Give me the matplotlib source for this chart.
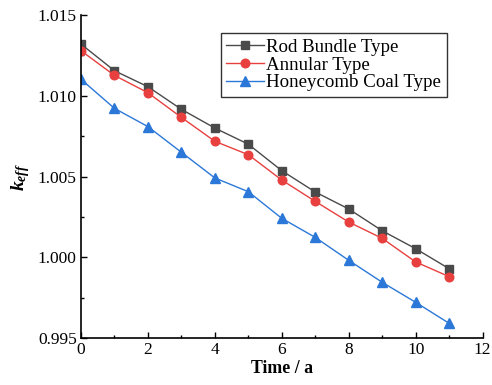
import matplotlib
matplotlib.use("Agg")
import matplotlib.pyplot as plt
from matplotlib.ticker import MultipleLocator

plt.rcParams['font.family'] = ['Liberation Serif', 'DejaVu Serif']
plt.rcParams['mathtext.fontset'] = 'custom'
plt.rcParams['mathtext.it'] = 'Liberation Serif:italic:bold'
plt.rcParams['mathtext.rm'] = 'Liberation Serif:bold'

# burnup time (years)
time = [0, 1, 2, 3, 4, 5, 6, 7, 8, 9, 10, 11]

rod_bundle = [1.01320, 1.01155, 1.01056, 1.00916, 1.00800, 1.00700,
              1.00536, 1.00404, 1.00299, 1.00164, 1.00053, 0.99929]
annular = [1.01279, 1.01126, 1.01019, 1.00866, 1.00718, 1.00635,
           1.00478, 1.00346, 1.00218, 1.00117, 0.99971, 0.99880]
honeycomb = [1.01102, 1.00922, 1.00809, 1.00650, 1.00491, 1.00406,
             1.00241, 1.00123, 0.99981, 0.99845, 0.99721, 0.99591]

fig = plt.figure(figsize=(4.92, 3.85), dpi=100)
ax = fig.add_axes([0.1646, 0.122, 0.8164, 0.839])

ax.plot(time, rod_bundle, color='#4a4a4a', marker='s', ms=5.5, lw=1.0,
        label='Rod Bundle Type')
ax.plot(time, annular, color='#e8403e', marker='o', ms=6.2, lw=1.0,
        label='Annular Type')
ax.plot(time, honeycomb, color='#2b78d8', marker='^', ms=6.5, lw=1.0,
        label='Honeycomb Coal Type')

ax.set_xlim(0, 12)
ax.set_ylim(0.995, 1.015)
ax.xaxis.set_major_locator(MultipleLocator(2))
ax.xaxis.set_minor_locator(MultipleLocator(1))
ax.yaxis.set_major_locator(MultipleLocator(0.005))
ax.yaxis.set_minor_locator(MultipleLocator(0.0025))
ax.yaxis.set_major_formatter(matplotlib.ticker.FormatStrFormatter('%.3f'))

for s in ['top', 'right']:
    ax.spines[s].set_visible(False)
for s in ['left', 'bottom']:
    ax.spines[s].set_linewidth(1.2)

ax.tick_params(which='major', direction='in', length=4.5, width=1.0,
               labelsize=12.5, pad=3)
ax.tick_params(which='minor', direction='in', length=2.5, width=1.0)

ax.set_xlabel('Time / a', fontsize=12.8, fontweight='bold', labelpad=1)
ax.set_ylabel('$k_{eff}$', fontsize=14, labelpad=4)

leg = ax.legend(loc='upper right', bbox_to_anchor=(0.910, 0.944),
                borderaxespad=0, fontsize=13.6, frameon=True, fancybox=False,
                edgecolor='black', handlelength=2.0, handletextpad=0.1,
                labelspacing=0.02, borderpad=0.3)
leg.get_frame().set_linewidth(1.0)

fig.savefig('out.png', dpi=100)
